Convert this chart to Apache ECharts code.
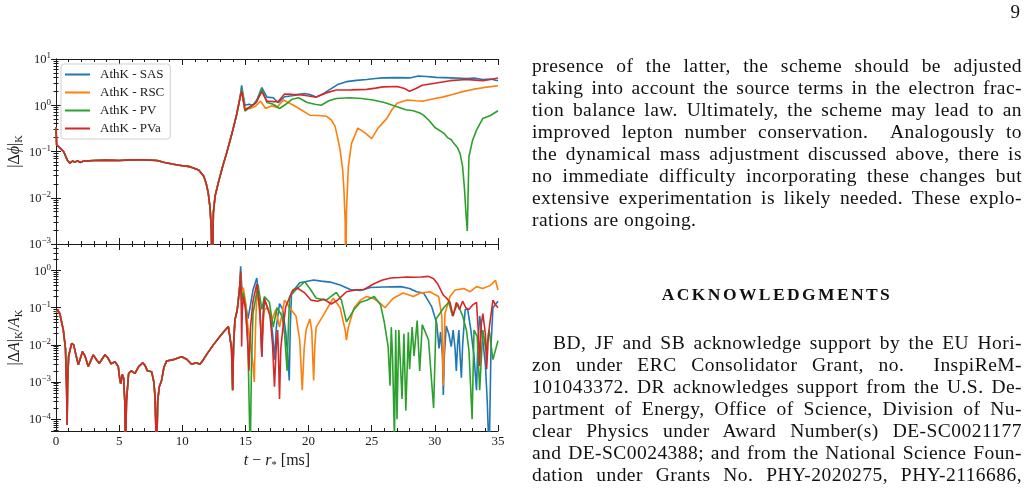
<!DOCTYPE html>
<html lang="en">
<head>
<meta charset="UTF-8"/>
<title>phase and amplitude errors</title>
<script src="https://cdn.jsdelivr.net/npm/echarts@6/dist/echarts.min.js"></script>
<style>
  body { margin: 0; background: #fff; }
  #main { position: absolute; left: 0; top: 0; width: 1028px; height: 492px; }
  .txt { position: absolute; left: 532px; width: 490px; font-family: "Liberation Serif", serif; font-size: 19.5px; letter-spacing: 0.45px; line-height: 22px; color: #111; }
  .ln { text-align: justify; text-align-last: justify; height: 22px; white-space: nowrap; }
  .ln.end { text-align-last: left; }
  #head { position: absolute; left: 532px; width: 490px; top: 283px; text-align: center; font-family: "Liberation Serif", serif; font-weight: bold; font-size: 17.5px; letter-spacing: 2.4px; line-height: 22px; color: #111; }
  #page { position: absolute; right: 8px; top: 1px; font-family: "Liberation Serif", serif; font-size: 19px; color: #111; }
</style>
</head>
<body>
<div id="main"></div>
<div id="page">9</div>
<div class="txt" style="top:55px">
  <div class="ln">presence of the latter, the scheme should be adjusted</div>
  <div class="ln">taking into account the source terms in the electron frac-</div>
  <div class="ln">tion balance law. Ultimately, the scheme may lead to an</div>
  <div class="ln">improved lepton number conservation.&nbsp; Analogously to</div>
  <div class="ln">the dynamical mass adjustment discussed above, there is</div>
  <div class="ln">no immediate difficulty incorporating these changes but</div>
  <div class="ln">extensive experimentation is likely needed. These explo-</div>
  <div class="ln end">rations are ongoing.</div>
</div>
<div id="head">ACKNOWLEDGMENTS</div>
<div class="txt" style="top:332px">
  <div class="ln" style="padding-left:21px">BD, JF and SB acknowledge support by the EU Hori-</div>
  <div class="ln">zon under ERC Consolidator Grant, no.&nbsp; InspiReM-</div>
  <div class="ln">101043372. DR acknowledges support from the U.S. De-</div>
  <div class="ln">partment of Energy, Office of Science, Division of Nu-</div>
  <div class="ln">clear Physics under Award Number(s) DE-SC0021177</div>
  <div class="ln">and DE-SC0024388; and from the National Science Foun-</div>
  <div class="ln">dation under Grants No. PHY-2020275, PHY-2116686,</div>
</div>

<script type="text/javascript">
    // schemes, same order/colours as the legend
    var schemes = ['AthK - SAS', 'AthK - RSC', 'AthK - PV', 'AthK - PVa'];
    var colors = ['#1f77b4', '#ff7f0e', '#2ca02c', '#d62728'];
    var xTicks = [0, 5, 10, 15, 20, 25, 30, 35];

    // |dphi|_K : part shared by every scheme (t < 14.6 ms)
    var phiEarly = [[0, 0.34], [0.05, 0.14], [0.3, 0.12], [0.6, 0.1], [0.9, 0.065], [1.1, 0.056], [1.3, 0.062], [1.5, 0.059],
        [1.7, 0.063], [1.9, 0.058], [2.2, 0.062], [3, 0.064], [4, 0.065], [5, 0.064], [6, 0.066], [7, 0.066], [8, 0.064],
        [8.6, 0.058], [9.3, 0.053], [10, 0.049], [10.6, 0.047], [11.3, 0.04], [11.7, 0.029], [11.9, 0.02], [12.05, 0.013],
        [12.2, 0.006], [12.3, 0.002], [12.38, 0.0001], [12.46, 0.0047], [12.6, 0.011], [12.85, 0.021], [13.2, 0.048],
        [13.5, 0.09], [13.8, 0.18], [14.0, 0.29], [14.3, 0.62], [14.57, 1.45]];
    var phiSAS = [[14.7, 2.7], [14.96, 1.0], [15.3, 1.05], [15.6, 1.0], [15.9, 1.3], [16.3, 2.4], [16.7, 1.5], [17.2, 1.45],
        [17.6, 1.13], [18.1, 1.53], [18.7, 1.6], [19.2, 1.7], [19.7, 1.8], [20.1, 1.7], [20.6, 1.5], [21.2, 1.8], [21.7, 2.2],
        [22.3, 2.8], [23.0, 3.24], [23.8, 3.45], [24.6, 3.6], [25.3, 3.8], [25.9, 3.9], [27.0, 3.95], [28.0, 3.9], [28.7, 4.3],
        [29.3, 4.2], [30.1, 4.0], [31.3, 3.9], [32.5, 3.8], [33.2, 3.85], [33.8, 3.6], [34.4, 3.7], [35, 3.4]];
    var phiRSC = [[14.7, 2.2], [14.96, 0.85], [15.36, 0.85], [15.8, 0.95], [16.2, 1.23], [16.6, 0.85], [17.1, 0.97], [17.5, 0.9],
        [18.0, 1.3], [18.8, 1.0], [19.4, 0.8], [20.1, 0.61], [20.8, 0.6], [21.4, 0.58], [21.8, 0.48], [22.1, 0.35], [22.3, 0.2],
        [22.5, 0.107], [22.7, 0.04], [22.8, 0.015], [22.9, 0.003], [22.93, 0.0001], [23.0, 0.005], [23.15, 0.047], [23.4, 0.15],
        [23.9, 0.32], [24.5, 0.25], [25.0, 0.19], [25.5, 0.32], [26.2, 0.52], [26.6, 0.8], [27.0, 1.1], [27.8, 1.3], [28.5, 1.25],
        [29.1, 1.23], [30.0, 1.4], [30.6, 1.5], [31.4, 1.7], [32.2, 1.97], [33.0, 2.2], [33.8, 2.4], [35, 2.65]];
    var phiPV = [[14.7, 2.2], [14.96, 0.75], [15.36, 0.9], [15.9, 1.2], [16.3, 2.2], [16.7, 1.15], [17.2, 1.05], [17.7, 0.85],
        [18.2, 1.05], [18.7, 1.35], [19.2, 1.45], [19.9, 1.15], [20.5, 1.05], [21.0, 1.0], [21.6, 1.25], [22.2, 1.4], [23.2, 1.45],
        [24.2, 1.4], [25.1, 1.3], [26.0, 1.15], [27.0, 0.93], [27.7, 0.8], [28.3, 0.76], [28.8, 0.68], [29.1, 0.61], [29.6, 0.45],
        [30.0, 0.33], [30.7, 0.25], [31.0, 0.2], [31.3, 0.18], [31.5, 0.15], [31.8, 0.12], [32.0, 0.09], [32.2, 0.047],
        [32.35, 0.015], [32.46, 0.0047], [32.57, 0.0019], [32.65, 0.02], [32.7, 0.078], [33.0, 0.18], [33.3, 0.29],
        [33.8, 0.52], [34.4, 0.6], [35, 0.76]];
    var phiPVa = [[14.7, 2.0], [14.96, 0.8], [15.36, 0.93], [15.8, 1.1], [16.3, 1.96], [16.7, 1.23], [17.2, 1.2], [17.6, 1.2],
        [18.1, 1.75], [18.7, 1.72], [19.3, 1.7], [19.9, 1.6], [20.6, 1.5], [21.4, 1.85], [22.2, 2.13], [23.4, 2.15], [24.6, 2.2],
        [25.3, 2.35], [25.9, 2.5], [27.0, 2.55], [27.6, 2.3], [28.0, 2.0], [28.5, 2.3], [29.0, 2.7], [30.0, 3.0], [31.2, 3.4],
        [32.5, 3.6], [33.2, 3.5], [33.8, 3.4], [34.4, 3.6], [35, 3.9]];

    // |dA|_K / A_K : shared part
    var ampEarly = [[0, 0.075], [0.15, 0.085], [0.3, 0.07], [0.58, 0.025], [0.75, 0.008], [0.84, 0.0007], [0.88, 0.00007],
        [0.92, 0.001], [1.0, 0.005], [1.24, 0.011], [1.4, 0.01], [1.6, 0.005], [1.77, 0.0029], [2.1, 0.0066], [2.3, 0.005],
        [2.55, 0.0026], [2.95, 0.0054], [3.2, 0.004], [3.43, 0.0032], [3.88, 0.0054], [4.1, 0.0045], [4.36, 0.0031],
        [4.67, 0.0035], [4.93, 0.0026], [5.05, 0.0012], [5.12, 0.0009], [5.25, 0.0016], [5.35, 0.0013], [5.45, 0.0003],
        [5.5, 0.00001], [5.58, 0.0003], [5.75, 0.0017], [5.97, 0.002], [6.25, 0.0017], [6.55, 0.0026], [6.87, 0.0033],
        [7.05, 0.0028], [7.23, 0.002], [7.57, 0.0019], [7.75, 0.001], [7.84, 0.0004], [7.97, 0.00001], [8.05, 0.0003],
        [8.18, 0.00075], [8.36, 0.0011], [8.55, 0.0025], [8.76, 0.0037], [9.29, 0.004], [9.7, 0.0045], [9.95, 0.0048],
        [10.35, 0.0041], [10.74, 0.003], [11.1, 0.0033], [11.4, 0.003], [11.67, 0.004], [12.0, 0.006], [12.46, 0.01],
        [12.99, 0.017], [13.3, 0.023], [13.65, 0.031], [13.8, 0.028], [13.9, 0.008], [13.99, 0.0006], [14.06, 0.01],
        [14.17, 0.047], [14.35, 0.087], [14.5, 0.25], [14.57, 0.46]];
    var ampSAS = [[14.62, 1.3], [14.7, 0.4], [14.83, 0.2], [15.0, 0.13], [15.2, 0.05], [15.36, 0.1], [15.6, 0.3], [15.9, 0.63],
        [16.0, 0.62], [16.15, 0.1], [16.3, 0.0048], [16.4, 0.06], [16.5, 0.16], [16.95, 0.071], [17.15, 0.02], [17.3, 0.004],
        [17.45, 0.03], [17.7, 0.13], [17.95, 0.09], [18.2, 0.021], [18.35, 0.005], [18.47, 0.0011], [18.55, 0.03],
        [18.65, 0.25], [19.3, 0.47], [20.4, 0.56], [21.0, 0.52], [21.7, 0.49], [22.5, 0.41], [23.3, 0.31], [24.1, 0.29],
        [24.9, 0.35], [25.9, 0.36], [27.3, 0.37], [28.0, 0.33], [28.55, 0.27], [29.1, 0.25], [29.75, 0.107], [30.15, 0.038],
        [30.33, 0.008], [30.45, 0.022], [30.6, 0.005], [30.67, 0.00045], [30.75, 0.005], [30.9, 0.032], [31.1, 0.02],
        [31.3, 0.009], [31.45, 0.025], [31.6, 0.008], [31.7, 0.002], [31.8, 0.01], [31.9, 0.025], [32.0, 0.005],
        [32.1, 0.0013], [32.2, 0.01], [32.4, 0.09], [32.6, 0.09], [32.85, 0.025], [33.1, 0.005], [33.3, 0.0006], [33.4, 0.01],
        [33.55, 0.06], [33.8, 0.013], [34.0, 0.003], [34.15, 0.0003], [34.3, 0.00001], [34.45, 0.01], [34.6, 0.1], [35, 0.15]];
    var ampRSC = [[14.62, 0.8], [14.7, 0.2], [14.83, 0.35], [15.0, 0.15], [15.2, 0.03], [15.4, 0.01], [15.6, 0.003],
        [15.7, 0.001], [15.8, 0.03], [15.9, 0.22], [16.05, 0.15], [16.3, 0.015], [16.5, 0.09], [16.8, 0.1], [17.1, 0.045],
        [17.4, 0.09], [17.7, 0.03], [18.1, 0.16], [18.5, 0.1], [19.0, 0.06], [19.3, 0.0135], [19.5, 0.0006], [19.65, 0.008],
        [19.8, 0.025], [20.1, 0.05], [20.25, 0.025], [20.4, 0.0011], [20.5, 0.01], [20.6, 0.03], [21.2, 0.065], [21.95, 0.18],
        [22.5, 0.1], [22.9, 0.025], [23.0, 0.0135], [23.15, 0.03], [23.6, 0.1], [24.1, 0.16], [24.6, 0.2], [25.1, 0.18],
        [25.6, 0.14], [26.05, 0.1], [26.7, 0.18], [27.5, 0.25], [28.3, 0.2], [28.85, 0.25], [29.6, 0.27], [30.3, 0.2],
        [30.55, 0.06], [30.67, 0.0008], [30.8, 0.07], [31.2, 0.2], [31.6, 0.3], [32.3, 0.33], [32.8, 0.27], [33.3, 0.37],
        [33.8, 0.33], [34.4, 0.4], [34.8, 0.55], [35, 0.3]];
    var ampPV = [[14.62, 0.8], [14.7, 0.15], [14.83, 0.25], [15.0, 0.1], [15.2, 0.01], [15.38, 0.00001], [15.48, 0.003],
        [15.6, 0.07], [16.0, 0.41], [16.3, 0.09], [16.5, 0.2], [16.9, 0.14], [17.2, 0.03], [17.5, 0.1], [17.9, 0.06],
        [18.1, 0.02], [18.3, 0.002], [18.4, 0.03], [18.5, 0.2], [19.1, 0.33], [19.7, 0.5], [20.1, 0.33], [20.6, 0.18],
        [21.4, 0.16], [22.2, 0.26], [22.6, 0.16], [23.0, 0.042], [23.3, 0.06], [23.6, 0.09], [24.1, 0.14], [24.6, 0.16],
        [25.2, 0.2], [25.7, 0.12], [26.0, 0.04], [26.3, 0.009], [26.45, 0.0008], [26.55, 0.03], [26.65, 0.0048],
        [26.8, 0.00003], [26.9, 0.025], [27.0, 0.0001], [27.15, 0.025], [27.4, 0.00035], [27.55, 0.02], [27.7, 0.00017],
        [27.9, 0.022], [28.0, 0.0022], [28.2, 0.03], [28.35, 0.005], [28.6, 0.045], [28.8, 0.002], [29.0, 0.035],
        [29.5, 0.0135], [29.9, 0.0002], [30.1, 0.05], [30.4, 0.07], [30.7, 0.1], [31.1, 0.14], [31.4, 0.06], [31.8, 0.13],
        [32.2, 0.06], [32.5, 0.025], [32.7, 0.007], [32.95, 0.0001], [33.1, 0.025], [33.35, 0.017], [33.55, 0.0006],
        [33.8, 0.025], [34.05, 0.007], [34.3, 0.025], [34.6, 0.004], [35, 0.013]];
    var ampPVa = [[14.62, 0.94], [14.67, 0.1], [14.7, 0.009], [14.75, 0.08], [14.83, 0.2], [15.0, 0.1], [15.15, 0.02],
        [15.28, 0.002], [15.4, 0.03], [15.6, 0.15], [15.9, 0.44], [16.0, 0.41], [16.15, 0.08], [16.3, 0.0048], [16.4, 0.05],
        [16.5, 0.18], [16.95, 0.06], [17.15, 0.01], [17.3, 0.00075], [17.45, 0.01], [17.55, 0.025], [17.62, 0.005],
        [17.7, 0.00035], [17.8, 0.008], [17.95, 0.025], [18.2, 0.11], [18.75, 0.3], [19.1, 0.34], [19.7, 0.25], [20.2, 0.16],
        [20.7, 0.15], [21.2, 0.17], [21.8, 0.126], [22.3, 0.16], [23.0, 0.27], [23.7, 0.3], [24.4, 0.31], [25.1, 0.43],
        [25.8, 0.55], [26.5, 0.63], [27.2, 0.65], [27.8, 0.67], [28.4, 0.66], [28.9, 0.67], [29.5, 0.7], [29.9, 0.6],
        [30.2, 0.45], [30.67, 0.22], [31.0, 0.17], [31.2, 0.14], [31.45, 0.06], [31.7, 0.14], [31.95, 0.09], [32.2, 0.15],
        [32.45, 0.1], [32.7, 0.09], [33.0, 0.12], [33.3, 0.14], [33.45, 0.02], [33.55, 0.0027], [33.65, 0.03], [33.8, 0.07],
        [34.0, 0.02], [34.1, 0.0022], [34.25, 0.02], [34.4, 0.05], [34.6, 0.16], [34.8, 0.12], [35, 0.1]];

    var phiLate = [phiSAS, phiRSC, phiPV, phiPVa];
    var ampLate = [ampSAS, ampRSC, ampPV, ampPVa];

    var serif = '"Liberation Serif", "DejaVu Serif", serif';
    var ink = '#1a1a1a';

    function powLabel(v) {
        var l = Math.log10(v), e = Math.round(l);
        if (Math.abs(l - e) > 1e-6) return '';
        return '{b|10}{s|' + (e < 0 ? '\u2212' + (-e) : e) + '}';
    }
    var powRich = {
        b: { fontFamily: serif, fontSize: 12.5, color: ink, lineHeight: 15, verticalAlign: 'bottom' },
        s: { fontFamily: serif, fontSize: 9, color: ink, lineHeight: 9, verticalAlign: 'top' }
    };
    var nameRich = {
        n: { fontFamily: serif, fontSize: 16, color: ink, lineHeight: 20 },
        i: { fontFamily: serif, fontStyle: 'italic', fontSize: 16, color: ink, lineHeight: 20 },
        sub: { fontFamily: serif, fontSize: 10.5, color: ink, padding: [10, 0, 0, 0] }
    };

    function xAxisDef(grid, pos, labels) {
        return {
            type: 'value', gridIndex: grid, position: pos, min: 0, max: 35, interval: 5,
            axisLine: { onZero: false, lineStyle: { color: ink, width: 1 } },
            axisTick: { inside: true, length: 6, lineStyle: { color: ink } },
            minorTick: { show: true, splitNumber: 5, length: 3, lineStyle: { color: ink } },
            splitLine: { show: false },
            axisLabel: { show: labels, margin: 4, fontFamily: serif, fontSize: 13, color: ink,
                formatter: function (v) { return xTicks.indexOf(v) >= 0 ? String(v) : ''; } },
            name: labels ? '{i|t}{n| \u2212 }{i|r}{sub|*}{n| [ms]}' : '',
            nameLocation: 'middle', nameGap: 19,
            nameTextStyle: { fontFamily: serif, fontSize: 16, color: ink, rich: nameRich }
        };
    }
    function yAxisDef(grid, pos, min, max, labels, name) {
        return {
            type: 'log', logBase: 10, gridIndex: grid, position: pos, min: min, max: max,
            axisLine: { lineStyle: { color: ink, width: 1 } },
            axisTick: { inside: true, length: 5, lineStyle: { color: ink } },
            minorTick: { show: true, splitNumber: 9, length: 2.5, lineStyle: { color: ink } },
            splitLine: { show: false },
            axisLabel: { show: labels, margin: 5, formatter: powLabel, rich: powRich },
            name: name || '', nameLocation: 'middle', nameGap: 31,
            nameTextStyle: { fontFamily: serif, fontSize: 16, color: ink, rich: nameRich }
        };
    }

    var series = [];
    schemes.forEach(function (name, k) {
        series.push({ name: name, type: 'line', xAxisIndex: 0, yAxisIndex: 0, data: phiEarly.concat(phiLate[k]),
            symbol: 'none', lineStyle: { width: 1.6, color: colors[k] }, itemStyle: { color: colors[k] }, z: 2 + k });
    });
    schemes.forEach(function (name, k) {
        series.push({ name: name, type: 'line', xAxisIndex: 2, yAxisIndex: 2, data: ampEarly.concat(ampLate[k]),
            symbol: 'none', lineStyle: { width: 1.6, color: colors[k] }, itemStyle: { color: colors[k] }, z: 2 + k });
    });

    var myChart = echarts.init(document.getElementById('main'));
    var option = {
        animation: false,
        backgroundColor: '#fff',
        grid: [
            { left: 56, top: 59, width: 442, height: 185 },
            { left: 56, top: 244, width: 442, height: 187 }
        ],
        legend: {
            data: schemes, orient: 'vertical', left: 61, top: 64, icon: 'rect',
            padding: [4, 6, 4, 4], itemGap: 5, itemWidth: 25, itemHeight: 2,
            backgroundColor: 'rgba(255,255,255,0.85)', borderColor: '#d0d0d0', borderWidth: 1, borderRadius: 3,
            textStyle: { fontFamily: serif, fontSize: 13, color: ink, lineHeight: 12.5, padding: [0, 0, 0, 5] }
        },
        xAxis: [xAxisDef(0, 'bottom', false), xAxisDef(0, 'top', false), xAxisDef(1, 'bottom', true), xAxisDef(1, 'top', false)],
        yAxis: [
            yAxisDef(0, 'left', 1e-3, 10, true, '{n||\u0394}{i|\u03d5}{n||}{sub|K}'),
            yAxisDef(0, 'right', 1e-3, 10, false),
            yAxisDef(1, 'left', 4.8e-5, 5.2, true, '{n||\u0394}{i|A}{n||}{sub|K}{n|/}{i|A}{sub|K}'),
            yAxisDef(1, 'right', 4.8e-5, 5.2, false)
        ],
        series: series
    };
    myChart.setOption(option);
</script>
</body>
</html>
